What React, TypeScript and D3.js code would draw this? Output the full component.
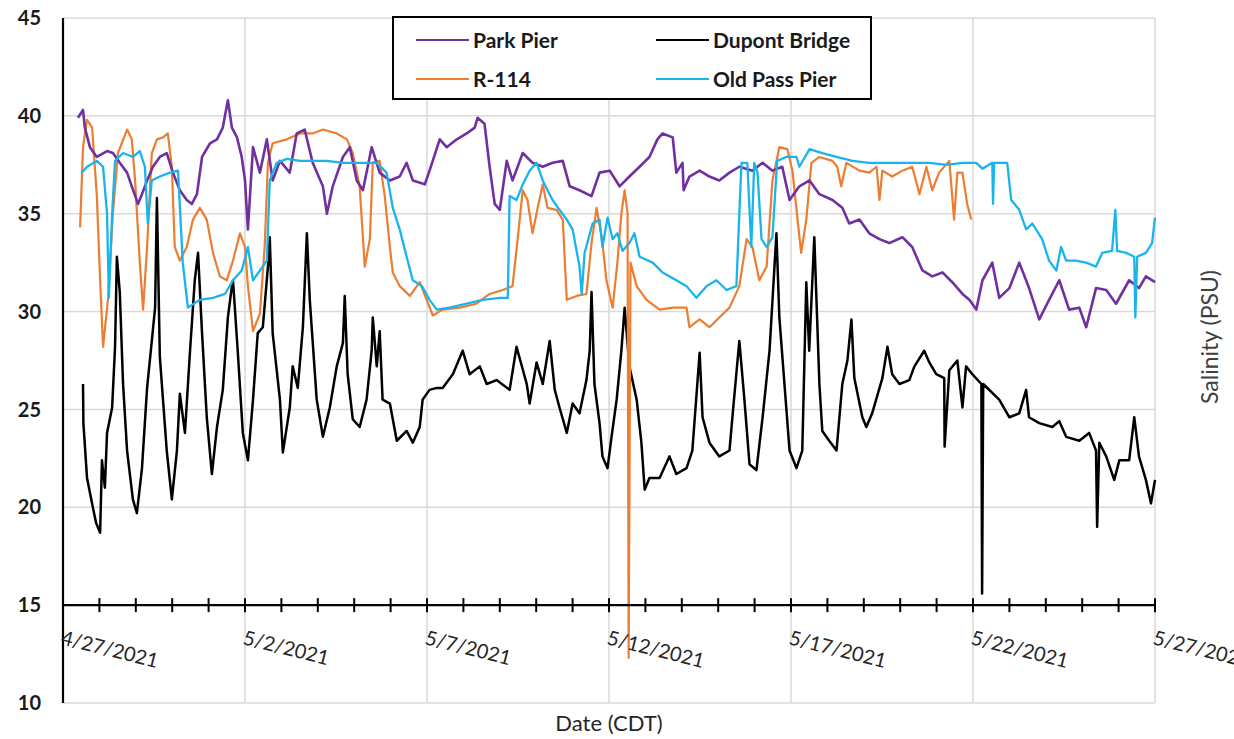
import React, { useEffect, useRef } from "react";
import * as d3 from "d3";

// salinity records, [days since 4/27/2021 00:00, PSU]
const parkPier: [number, number][] = [
  [0.41, 39.9], [0.55, 40.3], [0.6, 39.4], [0.74, 38.4], [0.93, 37.9], [1.21, 38.2], [1.37, 38.1],
  [1.56, 37.6], [1.76, 37.1], [1.89, 36.4], [2.06, 35.5], [2.17, 36.0], [2.31, 36.7], [2.47, 37.4],
  [2.66, 37.9], [2.85, 38.1], [3.02, 37.1], [3.21, 36.2], [3.4, 35.7], [3.54, 35.5], [3.68, 36.0],
  [3.82, 37.9], [4.04, 38.6], [4.23, 38.8], [4.39, 39.4], [4.53, 40.8], [4.64, 39.4], [4.78, 38.9],
  [4.91, 37.9], [5.0, 36.7], [5.08, 34.2], [5.22, 38.4], [5.41, 37.1], [5.6, 38.8], [5.76, 36.7],
  [5.96, 37.7], [6.23, 37.1], [6.42, 39.1], [6.64, 39.3], [6.86, 37.6], [7.14, 36.4], [7.25, 35.0],
  [7.41, 36.4], [7.69, 37.9], [7.88, 38.4], [8.07, 36.7], [8.24, 36.2], [8.48, 38.4], [8.7, 37.1],
  [8.98, 36.7], [9.25, 36.9], [9.44, 37.6], [9.61, 36.7], [9.94, 36.5], [10.07, 37.2], [10.35, 38.8],
  [10.54, 38.4], [10.82, 38.8], [11.09, 39.1], [11.31, 39.4], [11.39, 39.9], [11.58, 39.6], [11.72, 37.4],
  [11.86, 35.5], [12.0, 35.2], [12.19, 37.7], [12.35, 36.7], [12.63, 38.1], [12.9, 37.6], [13.18, 37.4],
  [13.45, 37.6], [13.73, 37.7], [13.92, 36.4], [14.19, 36.2], [14.52, 35.9], [14.74, 37.1], [15.02, 37.2],
  [15.29, 36.4], [15.56, 36.9], [15.84, 37.4], [16.11, 37.9], [16.33, 38.8], [16.47, 39.1], [16.75, 38.9],
  [16.85, 37.1], [17.02, 37.6], [17.05, 36.2], [17.21, 36.9], [17.49, 37.2], [17.76, 36.9], [18.03, 36.7],
  [18.31, 37.1], [18.58, 37.4], [18.94, 37.2], [19.22, 37.6], [19.49, 37.2], [19.76, 37.4], [19.96, 35.7],
  [20.23, 36.4], [20.51, 36.7], [20.78, 36.0], [21.14, 35.7], [21.41, 35.3], [21.6, 34.5], [21.88, 34.7],
  [22.15, 34.0], [22.43, 33.7], [22.7, 33.5], [23.06, 33.8], [23.33, 33.3], [23.61, 32.1], [23.88, 31.8],
  [24.16, 32.0], [24.43, 31.5], [24.71, 30.9], [24.9, 30.6], [25.09, 30.1], [25.26, 31.6], [25.53, 32.5],
  [25.72, 30.7], [26.0, 31.2], [26.27, 32.5], [26.54, 31.2], [26.82, 29.6], [27.09, 30.6], [27.37, 31.6],
  [27.64, 30.1], [27.92, 30.2], [28.11, 29.2], [28.38, 31.2], [28.66, 31.1], [28.93, 30.4], [29.29, 31.6],
  [29.56, 31.2], [29.75, 31.8], [30.0, 31.5],
];

const dupontBridge: [number, number][] = [
  [0.55, 26.3], [0.56, 24.3], [0.66, 21.5], [0.82, 20.0], [0.91, 19.2], [1.02, 18.7], [1.07, 22.4],
  [1.15, 21.0], [1.21, 23.8], [1.35, 25.1], [1.43, 28.2], [1.48, 32.8], [1.56, 31.0], [1.65, 26.3],
  [1.76, 22.9], [1.92, 20.4], [2.03, 19.7], [2.17, 22.0], [2.31, 26.1], [2.44, 28.5], [2.53, 30.2],
  [2.58, 35.8], [2.66, 27.7], [2.85, 22.9], [2.99, 20.4], [3.13, 22.9], [3.21, 25.8], [3.35, 23.8],
  [3.49, 28.0], [3.62, 31.6], [3.71, 33.0], [3.82, 28.9], [3.95, 24.6], [4.09, 21.7], [4.23, 24.1],
  [4.39, 26.0], [4.53, 29.7], [4.64, 31.3], [4.67, 31.6], [4.8, 28.0], [4.94, 23.8], [5.08, 22.4],
  [5.22, 25.5], [5.35, 28.9], [5.49, 29.2], [5.63, 32.3], [5.68, 33.8], [5.76, 28.9], [5.96, 25.5],
  [6.04, 22.8], [6.23, 25.1], [6.31, 27.2], [6.45, 26.1], [6.59, 29.2], [6.7, 34.0], [6.78, 30.6],
  [6.97, 25.5], [7.14, 23.6], [7.33, 25.1], [7.52, 27.2], [7.69, 28.4], [7.74, 30.8], [7.82, 26.8],
  [7.96, 24.5], [8.15, 24.1], [8.34, 25.5], [8.48, 28.0], [8.51, 29.7], [8.62, 27.2], [8.7, 29.0],
  [8.78, 25.5], [8.98, 25.3], [9.17, 23.4], [9.44, 23.9], [9.61, 23.3], [9.8, 24.1], [9.88, 25.5],
  [10.07, 26.0], [10.27, 26.1], [10.43, 26.1], [10.71, 26.8], [10.98, 28.0], [11.17, 26.8], [11.45, 27.2],
  [11.64, 26.3], [11.91, 26.5], [12.27, 26.0], [12.46, 28.2], [12.74, 26.3], [12.82, 25.3], [13.01, 27.4],
  [13.18, 26.3], [13.37, 28.5], [13.51, 26.0], [13.64, 25.1], [13.84, 23.8], [14.0, 25.3], [14.19, 24.8],
  [14.38, 26.5], [14.47, 28.0], [14.52, 31.0], [14.6, 26.3], [14.74, 24.3], [14.82, 22.6], [14.96, 22.0],
  [15.07, 23.6], [15.21, 25.5], [15.34, 28.0], [15.43, 30.2], [15.56, 27.2], [15.76, 25.5], [15.89, 23.3],
  [15.98, 20.9], [16.11, 21.5], [16.39, 21.5], [16.66, 22.6], [16.85, 21.7], [17.13, 22.0], [17.29, 22.9],
  [17.49, 27.9], [17.57, 24.6], [17.76, 23.3], [18.03, 22.6], [18.31, 22.9], [18.39, 24.6], [18.58, 28.5],
  [18.72, 25.5], [18.86, 22.2], [19.05, 21.9], [19.22, 24.6], [19.41, 28.0], [19.6, 34.0], [19.68, 29.7],
  [19.96, 22.9], [20.15, 22.0], [20.31, 22.9], [20.42, 31.5], [20.5, 28.0], [20.64, 33.8], [20.78, 26.3],
  [20.86, 23.9], [21.05, 23.4], [21.25, 22.9], [21.41, 26.3], [21.55, 27.5], [21.66, 29.6], [21.74, 26.6],
  [21.96, 24.6], [22.07, 24.1], [22.23, 24.8], [22.51, 26.6], [22.65, 28.2], [22.78, 26.8], [22.98, 26.3],
  [23.25, 26.5], [23.39, 27.2], [23.66, 28.0], [23.8, 27.4], [23.99, 26.8], [24.21, 26.6], [24.22, 23.1],
  [24.35, 27.0], [24.57, 27.5], [24.71, 25.1], [24.81, 27.2], [24.98, 26.8], [25.23, 26.3], [25.25, 15.6],
  [25.28, 26.3], [25.72, 25.5], [26.0, 24.6], [26.27, 24.8], [26.46, 26.0], [26.54, 24.6], [26.82, 24.3],
  [27.18, 24.1], [27.37, 24.4], [27.56, 23.6], [27.92, 23.4], [28.19, 23.8], [28.38, 22.9], [28.41, 19.0],
  [28.47, 23.3], [28.66, 22.6], [28.88, 21.4], [29.02, 22.4], [29.29, 22.4], [29.43, 24.6], [29.56, 22.6],
  [29.75, 21.4], [29.89, 20.2], [30.0, 21.4],
];

const r114: [number, number][] = [
  [0.47, 34.3], [0.55, 38.4], [0.66, 39.8], [0.8, 39.4], [0.93, 35.9], [1.02, 31.6], [1.1, 28.2],
  [1.24, 30.7], [1.37, 35.0], [1.51, 38.1], [1.76, 39.3], [1.89, 38.8], [1.98, 36.7], [2.11, 32.5],
  [2.2, 30.1], [2.31, 33.3], [2.44, 38.1], [2.58, 38.8], [2.75, 38.9], [2.88, 39.1], [2.99, 37.4],
  [3.07, 33.3], [3.21, 32.6], [3.4, 33.3], [3.57, 34.7], [3.76, 35.3], [3.95, 34.7], [4.12, 33.0],
  [4.31, 31.8], [4.5, 31.6], [4.67, 32.6], [4.86, 34.0], [5.0, 33.3], [5.08, 31.3], [5.22, 29.0],
  [5.41, 29.9], [5.54, 33.3], [5.63, 37.6], [5.76, 38.6], [6.15, 38.8], [6.51, 39.1], [6.86, 39.1],
  [7.14, 39.3], [7.52, 39.1], [7.8, 38.8], [7.96, 38.1], [8.15, 36.4], [8.29, 32.3], [8.43, 33.7],
  [8.51, 37.6], [8.7, 37.7], [8.84, 35.9], [8.98, 33.3], [9.06, 32.0], [9.25, 31.3], [9.53, 30.8],
  [9.8, 31.5], [10.16, 29.8], [10.43, 30.1], [10.9, 30.2], [11.36, 30.4], [11.72, 30.9], [12.08, 31.1],
  [12.35, 31.3], [12.49, 33.7], [12.63, 36.2], [12.76, 35.7], [12.9, 34.0], [13.04, 35.3], [13.18, 36.5],
  [13.31, 35.3], [13.56, 35.2], [13.73, 34.7], [13.84, 30.6], [14.11, 30.8], [14.38, 30.9], [14.52, 33.5],
  [14.66, 35.3], [14.8, 33.8], [14.93, 31.6], [15.1, 30.2], [15.23, 32.5], [15.34, 35.0], [15.43, 36.2],
  [15.51, 35.0], [15.54, 12.3], [15.59, 32.5], [15.76, 31.3], [16.03, 30.6], [16.39, 30.1], [16.75, 30.2],
  [17.13, 30.2], [17.21, 29.2], [17.49, 29.6], [17.76, 29.2], [18.03, 29.7], [18.31, 30.2], [18.58, 31.3],
  [18.78, 33.7], [18.94, 33.3], [19.13, 31.6], [19.33, 32.3], [19.49, 36.7], [19.68, 38.4], [19.9, 38.3],
  [20.04, 37.2], [20.18, 34.7], [20.28, 33.0], [20.42, 34.7], [20.56, 37.6], [20.78, 37.9], [21.14, 37.7],
  [21.27, 37.4], [21.38, 36.4], [21.52, 37.6], [21.88, 37.2], [22.15, 37.1], [22.35, 37.4], [22.43, 35.7],
  [22.51, 37.2], [22.78, 36.9], [23.06, 37.2], [23.33, 37.4], [23.53, 36.0], [23.72, 37.4], [23.88, 36.2],
  [24.07, 37.1], [24.35, 37.7], [24.48, 34.7], [24.57, 37.1], [24.71, 37.1], [24.84, 35.5], [24.95, 34.7],
];

const oldPassPier: [number, number][] = [
  [0.52, 37.1], [0.66, 37.4], [0.93, 37.7], [1.1, 37.4], [1.21, 35.0], [1.26, 30.7], [1.35, 35.0],
  [1.43, 37.7], [1.65, 38.1], [1.92, 37.9], [2.11, 38.2], [2.25, 37.4], [2.33, 34.5], [2.44, 36.7],
  [2.66, 36.9], [2.94, 37.1], [3.16, 37.2], [3.29, 32.5], [3.43, 30.2], [3.76, 30.6], [4.12, 30.7],
  [4.45, 30.9], [4.67, 31.6], [4.91, 32.1], [5.08, 33.3], [5.22, 31.6], [5.41, 32.1], [5.6, 32.6],
  [5.68, 36.7], [5.87, 37.6], [6.15, 37.8], [6.51, 37.7], [6.86, 37.7], [7.25, 37.7], [7.69, 37.6],
  [8.15, 37.6], [8.62, 37.6], [8.89, 37.1], [9.06, 35.3], [9.25, 34.2], [9.44, 32.8], [9.61, 31.6],
  [9.86, 31.3], [10.07, 30.6], [10.27, 30.1], [10.62, 30.2], [11.09, 30.4], [11.53, 30.6], [12.0, 30.7],
  [12.22, 30.7], [12.27, 35.9], [12.46, 35.7], [12.63, 36.5], [12.82, 37.2], [13.01, 37.6], [13.18, 36.7],
  [13.31, 36.2], [13.45, 35.7], [13.64, 35.2], [13.84, 34.7], [14.0, 34.2], [14.19, 32.3], [14.25, 30.9],
  [14.33, 33.0], [14.55, 34.5], [14.74, 34.7], [14.82, 33.3], [14.96, 34.8], [15.1, 33.7], [15.23, 34.0],
  [15.37, 33.1], [15.56, 33.5], [15.7, 34.0], [15.84, 32.8], [16.2, 32.5], [16.47, 32.0], [16.85, 31.6],
  [17.13, 31.3], [17.4, 30.7], [17.68, 31.3], [17.95, 31.6], [18.23, 31.1], [18.5, 31.3], [18.58, 35.0],
  [18.64, 37.6], [18.8, 37.6], [18.91, 33.3], [18.99, 37.6], [19.08, 37.1], [19.19, 33.7], [19.33, 33.3],
  [19.49, 33.8], [19.62, 37.7], [19.87, 37.9], [20.15, 37.9], [20.23, 37.4], [20.51, 38.3], [20.86, 38.1],
  [21.25, 37.9], [21.69, 37.7], [22.15, 37.6], [22.89, 37.6], [23.8, 37.6], [24.27, 37.5], [24.71, 37.6],
  [25.09, 37.6], [25.26, 37.3], [25.53, 37.6], [25.55, 35.5], [25.58, 37.6], [25.94, 37.6], [26.05, 35.7],
  [26.27, 35.2], [26.46, 34.2], [26.63, 34.5], [26.9, 33.7], [27.09, 32.6], [27.29, 32.1], [27.42, 33.3],
  [27.56, 32.6], [27.83, 32.6], [28.11, 32.5], [28.38, 32.3], [28.55, 33.0], [28.82, 33.1], [28.91, 35.2],
  [28.96, 33.1], [29.21, 33.0], [29.43, 32.8], [29.46, 29.7], [29.51, 32.8], [29.75, 33.0], [29.92, 33.5],
  [30.0, 34.8],
];

const seriesNames = ["Park Pier", "Dupont Bridge", "R-114", "Old Pass Pier"];
const yTicks = [10, 15, 20, 25, 30, 35, 40, 45];
const startDate = new Date(2021, 3, 27);
const endDate = new Date(2021, 4, 27);

const colors: Record<string, string> = {
  "Park Pier": "#7030A0",
  "Dupont Bridge": "#000000",
  "R-114": "#ED7D31",
  "Old Pass Pier": "#19B4EC",
};

const font = "Lato, 'Open Sans', sans-serif";

const App = () => {
  const ref = useRef<SVGSVGElement | null>(null);

  useEffect(() => {
    const svg = d3.select(ref.current);
    svg.selectAll("*").remove();

    const x = d3.scaleTime().domain([startDate, endDate]).range([63, 1155]);
    const y = d3.scaleLinear().domain([10, 45]).range([703, 18]);
    const toDate = (d: number) => new Date(startDate.getTime() + d * 864e5);

    const days = d3.timeDay.range(startDate, d3.timeDay.offset(endDate, 1));
    const labelDays = days.filter((_, i) => i % 5 === 0);

    //grid
    const grid = svg.append("g");
    grid.selectAll(".h").data(yTicks).enter().append("line")
      .attr("x1", 63).attr("x2", 1155)
      .attr("y1", (d) => y(d)).attr("y2", (d) => y(d))
      .attr("stroke", "#D9D9D9").attr("stroke-width", 1.5);
    grid.selectAll(".v").data(labelDays).enter().append("line")
      .attr("x1", (d) => x(d)).attr("x2", (d) => x(d))
      .attr("y1", y(45)).attr("y2", y(10))
      .attr("stroke", "#D9D9D9").attr("stroke-width", 1.5);

    //series
    const line = d3.line<[number, number]>()
      .x((d) => x(toDate(d[0])))
      .y((d) => y(d[1]));
    const plot = svg.append("g");
    const drawn: [string, [number, number][], number][] = [
      ["Dupont Bridge", dupontBridge, 2.5],
      ["R-114", r114, 2.2],
      ["Park Pier", parkPier, 2.6],
      ["Old Pass Pier", oldPassPier, 2.3],
    ];
    drawn.forEach(([name, data, w]) => {
      plot.append("path")
        .attr("d", line(data) as string)
        .attr("fill", "none")
        .attr("stroke", colors[name])
        .attr("stroke-width", w)
        .attr("stroke-linejoin", "round");
    });

    //axes
    const axis = svg.append("g");
    axis.append("line")
      .attr("x1", 63).attr("x2", 63).attr("y1", y(45)).attr("y2", y(10))
      .attr("stroke", "#000").attr("stroke-width", 2.2);
    axis.append("line")
      .attr("x1", 63).attr("x2", 1155).attr("y1", y(15)).attr("y2", y(15))
      .attr("stroke", "#000").attr("stroke-width", 2.2);
    axis.selectAll(".tick").data(days).enter().append("line")
      .attr("x1", (d) => x(d)).attr("x2", (d) => x(d))
      .attr("y1", y(15) - 7).attr("y2", y(15) + 7)
      .attr("stroke", "#000").attr("stroke-width", 2);

    axis.selectAll(".ylab").data(yTicks).enter().append("text")
      .attr("x", 41).attr("y", (d) => y(d)).attr("dy", "0.36em")
      .attr("text-anchor", "end")
      .attr("font-family", font).attr("font-weight", "bold").attr("font-size", 20)
      .attr("fill", "#1a1a1a")
      .text((d) => d);

    const fmt = d3.timeFormat("%-m/%-d/%Y");
    axis.selectAll(".xlab").data(labelDays).enter().append("text")
      .attr("transform", (d) => `translate(${x(d) - 3},644) rotate(14)`)
      .attr("font-family", font).attr("font-size", 20)
      .attr("fill", "#262626")
      .text((d) => fmt(d));

    svg.append("text")
      .attr("x", 609).attr("y", 731)
      .attr("text-anchor", "middle")
      .attr("font-family", font).attr("font-size", 22)
      .attr("fill", "#262626")
      .text("Date (CDT)");
    svg.append("text")
      .attr("transform", "translate(1218,337) rotate(-90)")
      .attr("text-anchor", "middle")
      .attr("font-family", font).attr("font-size", 23)
      .attr("fill", "#404040")
      .text("Salinity (PSU)");

    //legend
    const legend = svg.append("g");
    legend.append("rect")
      .attr("x", 393).attr("y", 17).attr("width", 478).attr("height", 82)
      .attr("fill", "#fff").attr("stroke", "#000").attr("stroke-width", 2);
    seriesNames.forEach((name, i) => {
      const lx = i % 2 === 0 ? 416 : 656;
      const ly = i < 2 ? 40 : 79;
      legend.append("line")
        .attr("x1", lx).attr("x2", lx + 53).attr("y1", ly).attr("y2", ly)
        .attr("stroke", colors[name]).attr("stroke-width", 2.2);
      legend.append("text")
        .attr("x", lx + 57).attr("y", ly).attr("dy", "0.36em")
        .attr("font-family", font).attr("font-weight", "bold").attr("font-size", 21)
        .attr("fill", "#1a1a1a")
        .text(name);
    });
  }, []);

  return (
    <svg
      ref={ref}
      width={1234}
      height={739}
      style={{ position: "absolute", left: 0, top: 0, background: "#fff" }}
    ></svg>
  );
};

export default App;
